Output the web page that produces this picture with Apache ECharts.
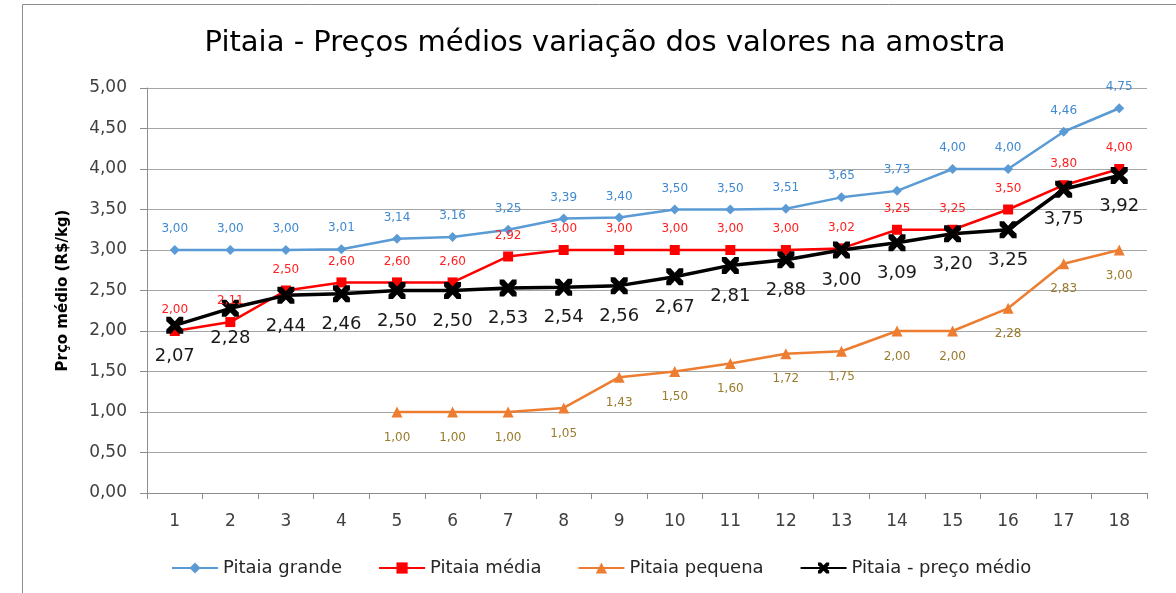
<!DOCTYPE html>
<html>
<head>
<meta charset="utf-8">
<script src="https://cdn.jsdelivr.net/npm/echarts@6/dist/echarts.min.js"></script>
<style>
    html, body { margin: 0; padding: 0; background: #fff; }
    #chart { width: 1176px; height: 593px; }
</style>
</head>
<body>
<div id="chart"></div>
<script>
// dados
var categorias = ['1', '2', '3', '4', '5', '6', '7', '8', '9', '10', '11', '12', '13', '14', '15', '16', '17', '18'];
var grande = [3.00, 3.00, 3.00, 3.01, 3.14, 3.16, 3.25, 3.39, 3.40, 3.50, 3.50, 3.51, 3.65, 3.73, 4.00, 4.00, 4.46, 4.75];
var media = [2.00, 2.11, 2.50, 2.60, 2.60, 2.60, 2.92, 3.00, 3.00, 3.00, 3.00, 3.00, 3.02, 3.25, 3.25, 3.50, 3.80, 4.00];
var pequena = [null, null, null, null, 1.00, 1.00, 1.00, 1.05, 1.43, 1.50, 1.60, 1.72, 1.75, 2.00, 2.00, 2.28, 2.83, 3.00];
var precoMedio = [2.07, 2.28, 2.44, 2.46, 2.50, 2.50, 2.53, 2.54, 2.56, 2.67, 2.81, 2.88, 3.00, 3.09, 3.20, 3.25, 3.75, 3.92];
var nomes = ['Pitaia grande', 'Pitaia média', 'Pitaia pequena', 'Pitaia - preço médio'];

(function () {
    var fonte = '"DejaVu Sans", sans-serif';
    // virgula decimal
    function fmt(v) {
        return v == null ? '' : Number(v).toFixed(2).replace('.', ',');
    }
    function rotulo(p) {
        return fmt(p.value);
    }
    // marcador em X
    var xis = 'path://M0,0 L2.6,0 L5,2.6 L7.4,0 L10,0 L10,2.6 L7.4,5 L10,7.4 L10,10 L7.4,10 L5,7.4 L2.6,10 L0,10 L0,7.4 L2.6,5 L0,2.6 Z';

    var myChart = echarts.init(document.getElementById('chart'));
    var option = {
        animation: false,
        textStyle: { fontFamily: fonte },
        title: {
            text: 'Pitaia - Preços médios variação dos valores na amostra',
            left: 600,
            top: 24,
            textAlign: 'center',
            textStyle: { fontFamily: fonte, fontSize: 29, fontWeight: 'normal', color: '#000' }
        },
        graphic: [{
            type: 'rect',
            shape: { x: 22.5, y: 4.5, width: 1300, height: 700 },
            style: { fill: 'none', stroke: '#8c8c8c', lineWidth: 1 },
            silent: true
        }],
        grid: {
            left: 147,
            right: 29,
            top: 88,
            bottom: 100
        },
        legend: {
            data: nomes,
            left: 166,
            top: 554,
            itemWidth: 46,
            itemHeight: 14,
            itemGap: 36,
            textStyle: { fontFamily: fonte, fontSize: 18, color: '#262626' }
        },
        xAxis: {
            type: 'category',
            data: categorias,
            boundaryGap: true,
            axisLine: { lineStyle: { color: '#8c8c8c' } },
            axisTick: { show: true, length: 6, lineStyle: { color: '#8c8c8c' } },
            axisLabel: { color: '#404040', fontSize: 17, margin: 20, fontFamily: fonte }
        },
        yAxis: {
            type: 'value',
            min: 0,
            max: 5,
            interval: 0.5,
            name: 'Prço médio (R$/kg)',
            nameLocation: 'middle',
            nameGap: 76,
            nameTextStyle: { fontFamily: fonte, fontSize: 15, fontWeight: 'bold', color: '#000' },
            axisLine: { show: true, lineStyle: { color: '#8c8c8c' } },
            axisTick: { show: true, length: 7, lineStyle: { color: '#8c8c8c' } },
            axisLabel: { color: '#404040', fontSize: 17, margin: 20, fontFamily: fonte, formatter: fmt },
            splitLine: { lineStyle: { color: '#a6a6a6' } }
        },
        series: [{
            name: nomes[0],
            type: 'line',
            data: grande,
            symbol: 'diamond',
            symbolSize: 10,
            color: '#5b9bd5',
            lineStyle: { width: 2.5 },
            label: { show: true, position: 'top', distance: 10, color: '#3f8ad0', fontSize: 12, formatter: rotulo }
        }, {
            name: nomes[1],
            type: 'line',
            data: media,
            symbol: 'rect',
            symbolSize: 10,
            color: '#ff0000',
            lineStyle: { width: 2.5 },
            label: { show: true, position: 'top', distance: 10, color: '#ff2020', fontSize: 12, formatter: rotulo }
        }, {
            name: nomes[2],
            type: 'line',
            data: pequena,
            symbol: 'triangle',
            symbolSize: 11,
            color: '#ed7d31',
            lineStyle: { width: 2.5 },
            label: { show: true, position: 'bottom', distance: 14, color: '#9a7b2c', fontSize: 12, formatter: rotulo }
        }, {
            name: nomes[3],
            type: 'line',
            data: precoMedio,
            symbol: xis,
            symbolSize: 17,
            color: '#000',
            lineStyle: { width: 3.5 },
            label: { show: true, position: 'bottom', distance: 13, color: '#1a1a1a', fontSize: 18, formatter: rotulo }
        }]
    };
    myChart.setOption(option);
    window.addEventListener('resize', function () {
        myChart.resize();
    });
})();
</script>
</body>
</html>
